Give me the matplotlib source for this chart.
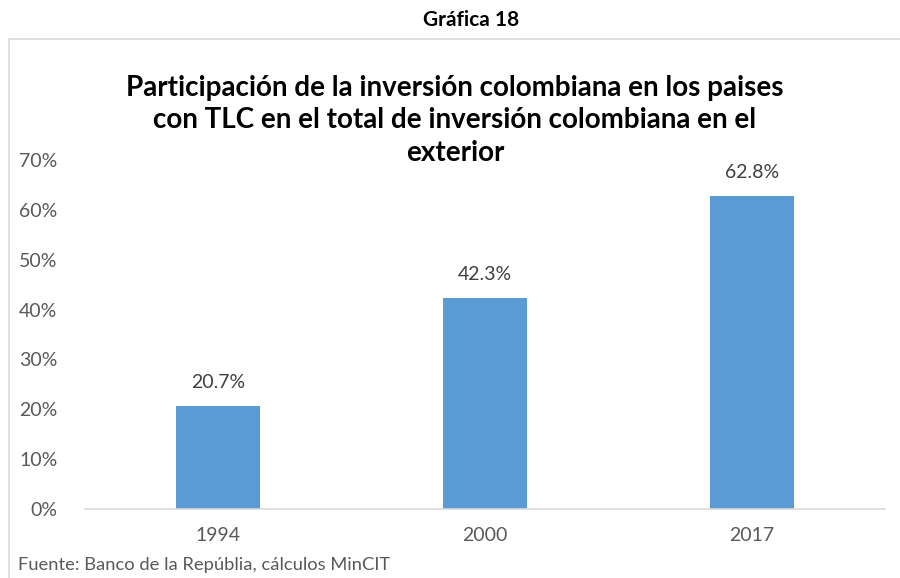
import matplotlib.pyplot as plt
from matplotlib.patches import Rectangle

years = ['1994', '2000', '2017']
shares = [20.7, 42.3, 62.8]
yticks = [0, 10, 20, 30, 40, 50, 60, 70]

plt.rcParams['font.family'] = ['Lato', 'DejaVu Sans']

fig = plt.figure(figsize=(9, 5.78), dpi=100)
W, H = 900, 578

# outer chart border (runs off the right/bottom edge)
fig.patches.append(Rectangle((9 / W, -0.1), 1.0, 1 - 39 / H + 0.1,
                             transform=fig.transFigure, fill=False,
                             edgecolor='#d9d9d9', linewidth=1.2))

ax = fig.add_axes([85 / W, (H - 509) / H, 800 / W, (509 - 160) / H])
x = range(len(years))
bars = ax.bar(x, shares, width=0.315, color='#5b9bd5')
for xi, v in zip(x, shares):
    ax.annotate('%.1f%%' % v, (xi, v), xytext=(0, 11), textcoords='offset points',
                ha='center', va='bottom', fontsize=14, color='#404040')

ax.set_xlim(-0.5, 2.5)
ax.set_ylim(0, 70)
ax.set_yticks(yticks)
ax.set_yticklabels(['%d%%' % t for t in yticks])
ax.set_xticks(list(x))
ax.set_xticklabels(years)
ax.tick_params(length=0, labelsize=14, labelcolor='#595959')
ax.tick_params(axis='x', pad=13)
ax.tick_params(axis='y', pad=20)
for s in ['top', 'right', 'left']:
    ax.spines[s].set_visible(False)
ax.spines['bottom'].set_color('#d9d9d9')
ax.spines['bottom'].set_linewidth(1.2)

fig.text(471 / W, 1 - 20 / H, 'Gráfica 18', ha='center', va='center',
         fontsize=15, fontweight='bold', color='black')
# title: two long lines + short last line (kept separate so its box stays narrow)
fig.text(455 / W, 1 - 104 / H,
         'Participación de la inversión colombiana en los paises\n'
         'con TLC en el total de inversión colombiana en el',
         ha='center', va='center', fontsize=20, fontweight='bold',
         color='black', linespacing=1.3)
fig.text(455 / W, 1 - 153 / H, 'exterior',
         ha='center', va='center', fontsize=20, fontweight='bold',
         color='black')
fig.text(18 / W, 1 - 565 / H, 'Fuente: Banco de la Repúblia, cálculos MinCIT',
         ha='left', va='center', fontsize=13.2, color='#595959')

fig.savefig('out.png', dpi=100)
